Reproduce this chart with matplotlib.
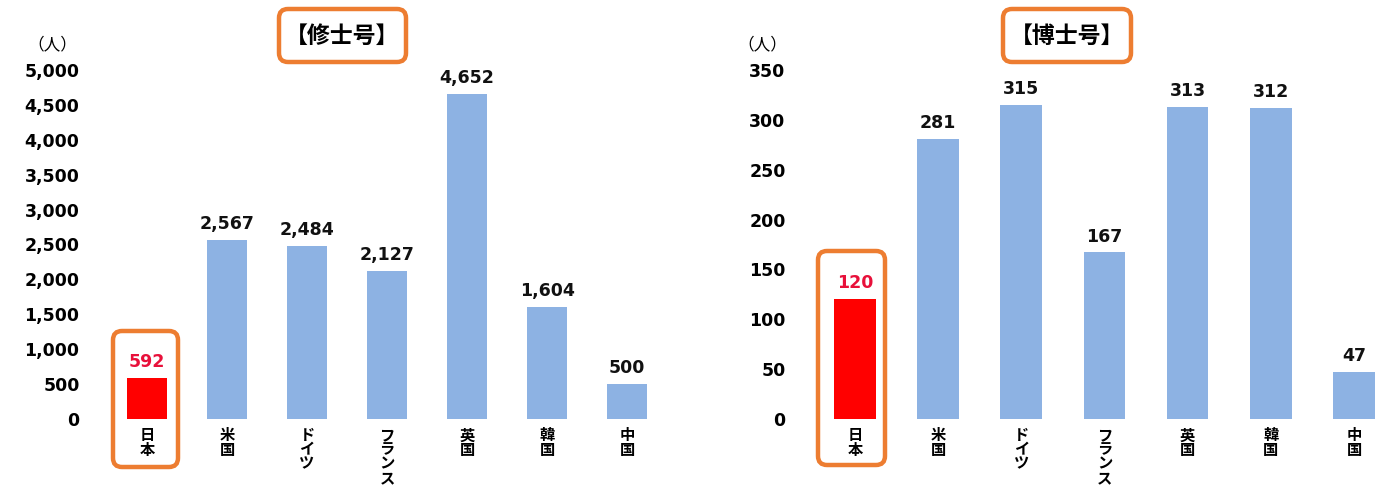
import matplotlib
matplotlib.use("Agg")
import matplotlib.pyplot as plt
import matplotlib.patches as patches
from matplotlib.transforms import IdentityTransform

countries = ["日本", "米国", "ドイツ", "フランス", "英国", "韓国", "中国"]
master = [592, 2567, 2484, 2127, 4652, 1604, 500]
doctor = [120, 281, 315, 167, 313, 312, 47]
master_ticks = [0, 500, 1000, 1500, 2000, 2500, 3000, 3500, 4000, 4500, 5000]
doctor_ticks = [0, 50, 100, 150, 200, 250, 300, 350]

W, H = 1381, 488
BLUE = "#8DB2E3"
RED = "#FF0000"
ORANGE = "#ED7D31"
NUM_FONT = "DejaVu Sans"
JP_FONT = ["Noto Sans CJK JP", "DejaVu Sans"]

fig = plt.figure(figsize=(W / 100, H / 100), dpi=100)


def px_box(x0, y0, x1, y1):
    # box in pixel coords measured from the top-left corner
    box = patches.FancyBboxPatch((x0, H - y1), x1 - x0, y1 - y0,
                                 boxstyle="round,pad=0,rounding_size=9",
                                 transform=IdentityTransform(), fc="none",
                                 ec=ORANGE, lw=3.2, zorder=10)
    fig.patches.append(box)


def draw(ax_rect, values, ticks, ymax, xmax, title, title_xy, unit_xy):
    ax = fig.add_axes(ax_rect)
    x = range(len(values))
    colors = [RED] + [BLUE] * (len(values) - 1)
    ax.bar(x, values, width=0.5, color=colors, zorder=2)
    ax.set_xlim(-0.6, xmax)
    ax.set_ylim(0, ymax)
    for s in ax.spines.values():
        s.set_visible(False)
    ax.set_yticks(ticks)
    ax.set_yticklabels([f"{t:,}" for t in ticks], fontfamily=NUM_FONT,
                       fontweight="bold", fontsize=12.5)
    ax.tick_params(axis="y", length=0, pad=14)
    ax.set_xticks(list(x))
    ax.set_xticklabels(["\n".join(c) for c in countries], family=JP_FONT,
                       fontweight="bold", fontsize=11, linespacing=0.86)
    ax.tick_params(axis="x", length=0, pad=6)
    for i, v in enumerate(values):
        ax.annotate(f"{v:,}", (i, v), xytext=(0, 5), textcoords="offset points",
                    ha="center", va="bottom", fontfamily=NUM_FONT,
                    fontweight="bold", fontsize=12.5,
                    color="#E8103A" if i == 0 else "#111111")
    fig.text(title_xy[0] / W, 1 - title_xy[1] / H, title, family=JP_FONT,
             fontweight="bold", fontsize=16.5, ha="center", va="center")
    fig.text(unit_xy[0] / W, 1 - unit_xy[1] / H, "（人）", family=JP_FONT,
             fontsize=12, ha="center", va="center")
    return ax


bottom = (H - 419) / H
height = (419 - 70) / H

# left: 80 px per bar slot, bar 0 centred at x=147
draw([99 / W, bottom, 576 / W, height], master, master_ticks, 5000, 6.6,
     "【修士号】", (342, 36), (52, 45))
# right: 83.2 px per bar slot, bar 0 centred at x=855
draw([805 / W, bottom, 574 / W, height], doctor, doctor_ticks, 350, 6.3,
     "【博士号】", (1067, 36), (762, 45))

px_box(279, 9, 406, 62)
px_box(1003, 9, 1131, 62)
px_box(113, 331, 178, 467)
px_box(818, 251, 885, 465)

fig.savefig("out.png", dpi=100)
